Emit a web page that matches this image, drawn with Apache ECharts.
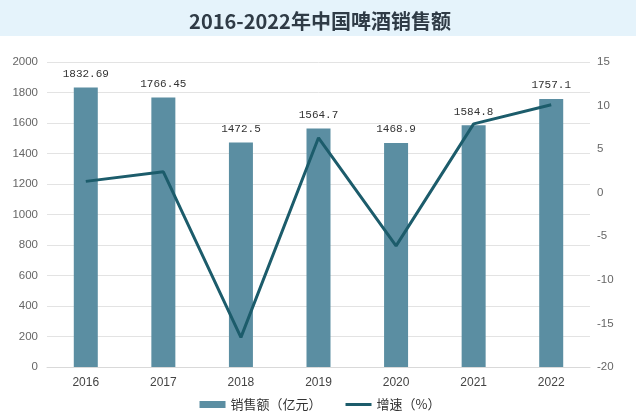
<!DOCTYPE html>
<html>
<head>
<meta charset="utf-8">
<script src="https://cdn.jsdelivr.net/npm/echarts@6/dist/echarts.min.js"></script>
<style>html,body{margin:0;padding:0;background:#fff;}#c{width:640px;height:418px;}</style>
</head>
<body>
<div id="c"></div>
<script>
const years = ['2016','2017','2018','2019','2020','2021','2022'];
const sales = [1832.69, 1766.45, 1472.5, 1564.7, 1468.9, 1584.8, 1757.1];
const salesLabels = ['1832.69','1766.45','1472.5','1564.7','1468.9','1584.8','1757.1'];
const growth = [1.3, 2.4, -16.6, 6.3, -6.1, 7.9, 10.1];
const titleText = '2016-2022年中国啤酒销售额';
const seriesNames = ['销售额（亿元）', '增速（%）'];

const chart = echarts.init(document.getElementById('c'));
chart.setOption({
  backgroundColor: '#fff',
  animation: false,
  graphic: [{
    type: 'rect', left: 0, top: 0, z: -10,
    shape: { width: 636, height: 36 },
    style: { fill: '#e5f3fb' }
  }],
  title: {
    text: titleText, left: 'center', top: 6,
    textStyle: { fontFamily: 'Noto Sans CJK SC', fontWeight: 'bold', fontSize: 20, color: '#2f3b46' }
  },
  legend: {
    bottom: 2, left: 'center', itemGap: 24,
    itemWidth: 26, itemHeight: 7,
    textStyle: { fontFamily: 'Noto Sans CJK SC', fontSize: 13, color: '#333' },
    data: [
      { name: seriesNames[0], icon: 'rect' },
      { name: seriesNames[1], icon: 'path://M0,0h26v3h-26z' }
    ]
  },
  grid: { left: 47, right: 50, top: 62, bottom: 51 },
  xAxis: {
    type: 'category', data: years,
    axisLine: { lineStyle: { color: '#d9d9d9' } },
    axisTick: { show: false },
    axisLabel: { color: '#444', fontSize: 12, fontFamily: 'Liberation Sans', margin: 10 }
  },
  yAxis: [{
    type: 'value', min: 0, max: 2000, interval: 200,
    axisLine: { show: false }, axisTick: { show: false },
    axisLabel: { color: '#666', fontSize: 11.5, fontFamily: 'Liberation Sans', margin: 9, formatter: v => String(v) },
    splitLine: { lineStyle: { color: '#e3e3e3' } }
  }, {
    type: 'value', min: -20, max: 15, interval: 5,
    axisLine: { show: false }, axisTick: { show: false },
    axisLabel: { color: '#666', fontSize: 11.5, fontFamily: 'Liberation Sans', margin: 7, formatter: v => String(v) },
    splitLine: { show: false }
  }],
  series: [{
    name: seriesNames[0], type: 'bar', data: sales, barWidth: 24,
    itemStyle: { color: '#5b8ea2' },
    label: {
      show: true, position: 'top', distance: 8,
      formatter: p => salesLabels[p.dataIndex],
      fontFamily: 'Liberation Mono', fontSize: 11, color: '#333'
    }
  }, {
    name: seriesNames[1], type: 'line', yAxisIndex: 1, data: growth,
    symbol: 'none', showSymbol: false,
    lineStyle: { color: '#1c5c6b', width: 3 },
    itemStyle: { color: '#1c5c6b' }
  }]
});
</script>
</body>
</html>
